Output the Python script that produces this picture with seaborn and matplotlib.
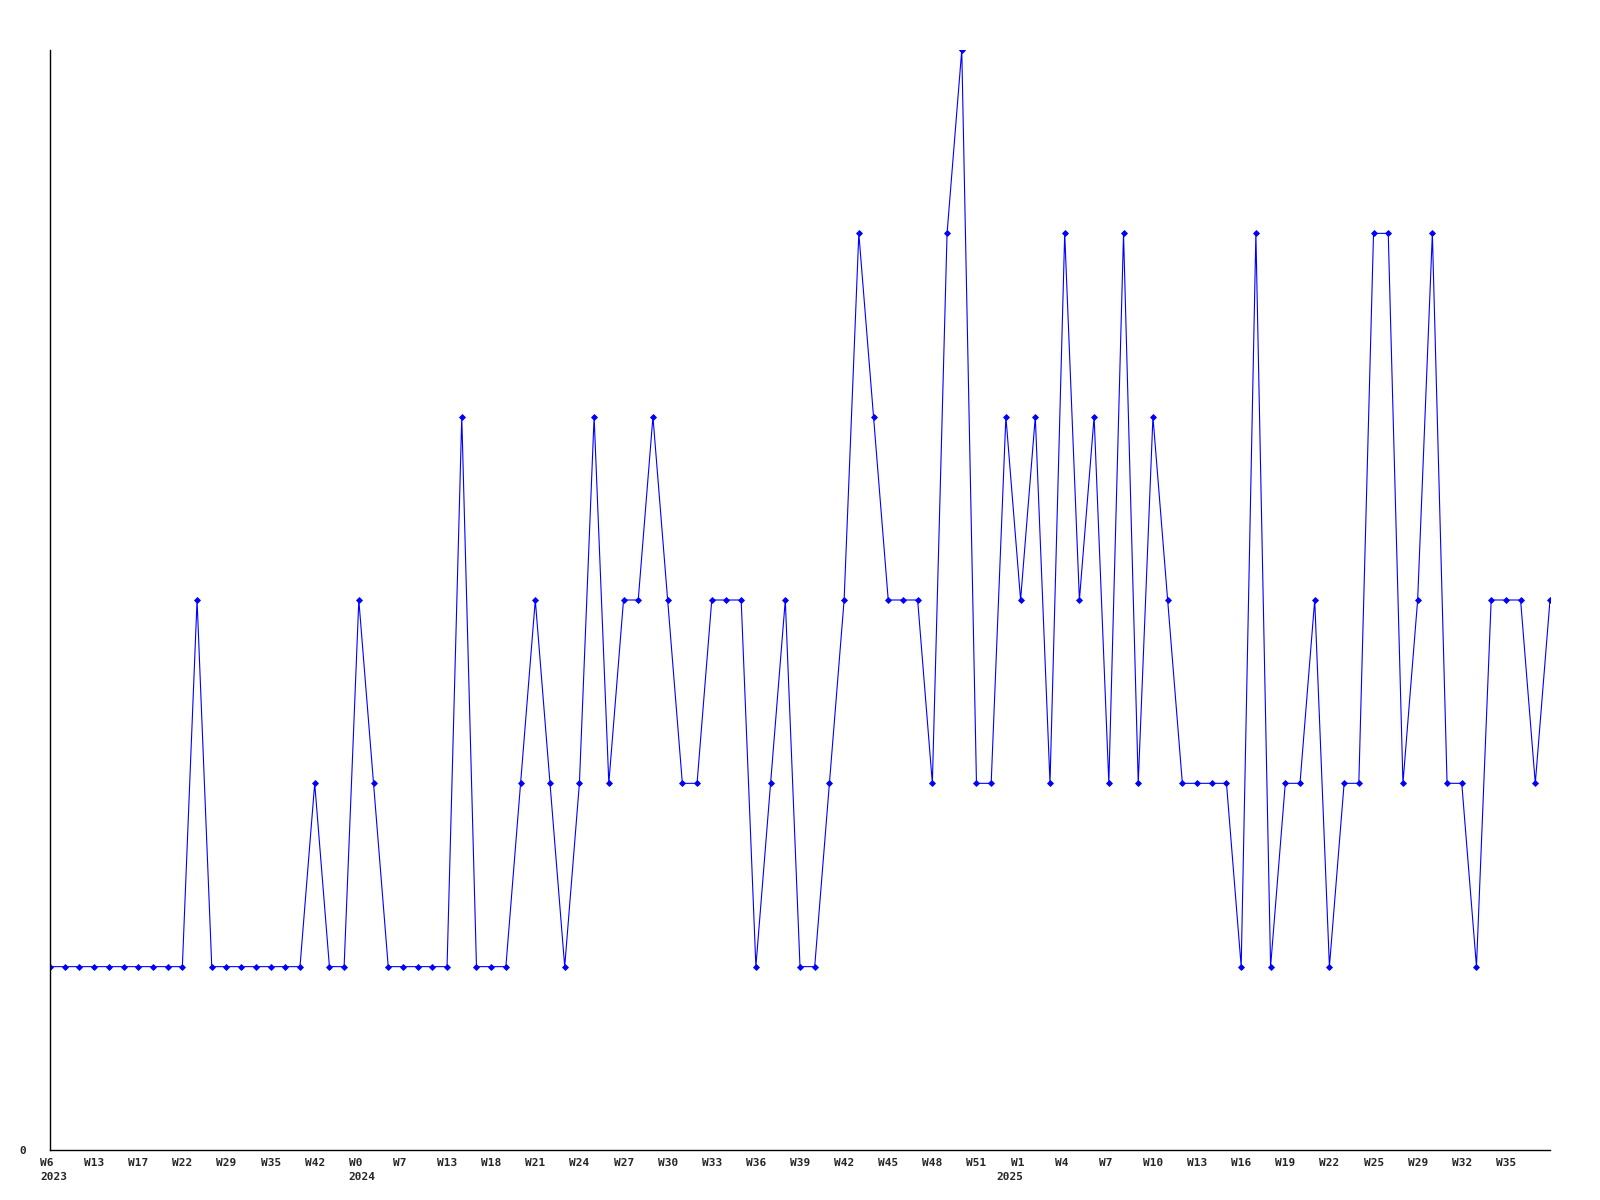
import numpy as np
import matplotlib.pyplot as plt
import matplotlib as mpl
from matplotlib.transforms import blended_transform_factory, offset_copy
import seaborn as sns

# weekly counts (103 points)
counts = [1, 1, 1, 1, 1, 1, 1, 1, 1, 1,
          3, 1, 1, 1, 1, 1, 1, 1, 2, 1,
          1, 3, 2, 1, 1, 1, 1, 1, 4, 1,
          1, 1, 2, 3, 2, 1, 2, 4, 2, 3,
          3, 4, 3, 2, 2, 3, 3, 3, 1, 2,
          3, 1, 1, 2, 3, 5, 4, 3, 3, 3,
          2, 5, 6, 2, 2, 4, 3, 4, 2, 5,
          3, 4, 2, 5, 2, 4, 3, 2, 2, 2,
          2, 1, 5, 1, 2, 2, 3, 1, 2, 2,
          5, 5, 2, 3, 5, 2, 2, 1, 3, 3,
          3, 2, 3]

# every third point carries a week label
week_labels = ['W6', 'W13', 'W17', 'W22', 'W29', 'W35', 'W42',
               'W0', 'W7', 'W13', 'W18', 'W21', 'W24', 'W27', 'W30', 'W33',
               'W36', 'W39', 'W42', 'W45', 'W48', 'W51',
               'W1', 'W4', 'W7', 'W10', 'W13', 'W16', 'W19', 'W22', 'W25',
               'W29', 'W32', 'W35']
# year markers: (point index, year)
year_pos = [0, 21, 65]
year_labels = ['2023', '2024', '2025']

BLUE = '#0000FF'
sns.set_style('white')
mpl.rcParams.update({'font.family': ['DejaVu Sans Mono'], 'font.weight': 'bold',
                     'axes.spines.top': False, 'axes.spines.right': False})

x = np.arange(len(counts))
fig = plt.figure(figsize=(16, 12), dpi=100)
ax = fig.add_axes([0.03125, 0.0417, 0.9375, 0.9166])
sns.lineplot(x=x, y=counts, color=BLUE, linewidth=0.8, marker='D', markersize=3,
             markeredgecolor=BLUE, markeredgewidth=0.6, ax=ax)

# week / year labels hang under the axis, left edge ~10px before the point
base = blended_transform_factory(ax.transData, ax.transAxes)
wk_tr = offset_copy(base, fig=fig, x=-10, y=-8, units='dots')
yr_tr = offset_copy(base, fig=fig, x=-10, y=-22, units='dots')
for i, lab in enumerate(week_labels):
    ax.text(i * 3, 0, lab, transform=wk_tr, ha='left', va='top',
            fontsize=8, fontweight='bold')
for p, yr in zip(year_pos, year_labels):
    ax.text(p, 0, yr, transform=yr_tr, ha='left', va='top',
            fontsize=8, fontweight='bold')

ax.set_xticks([])
ax.set_yticks([0])
ax.set_yticklabels(['0'], fontsize=8, fontweight='bold')
ax.tick_params(axis='y', length=0, pad=17)
ax.set(xlim=(0, len(counts) - 1), ylim=(0, 6), xlabel='', ylabel='')
for s in ['left', 'bottom']:
    ax.spines[s].set_color('black')
    ax.spines[s].set_linewidth(1.0)

fig.savefig('out.png', dpi=100)
